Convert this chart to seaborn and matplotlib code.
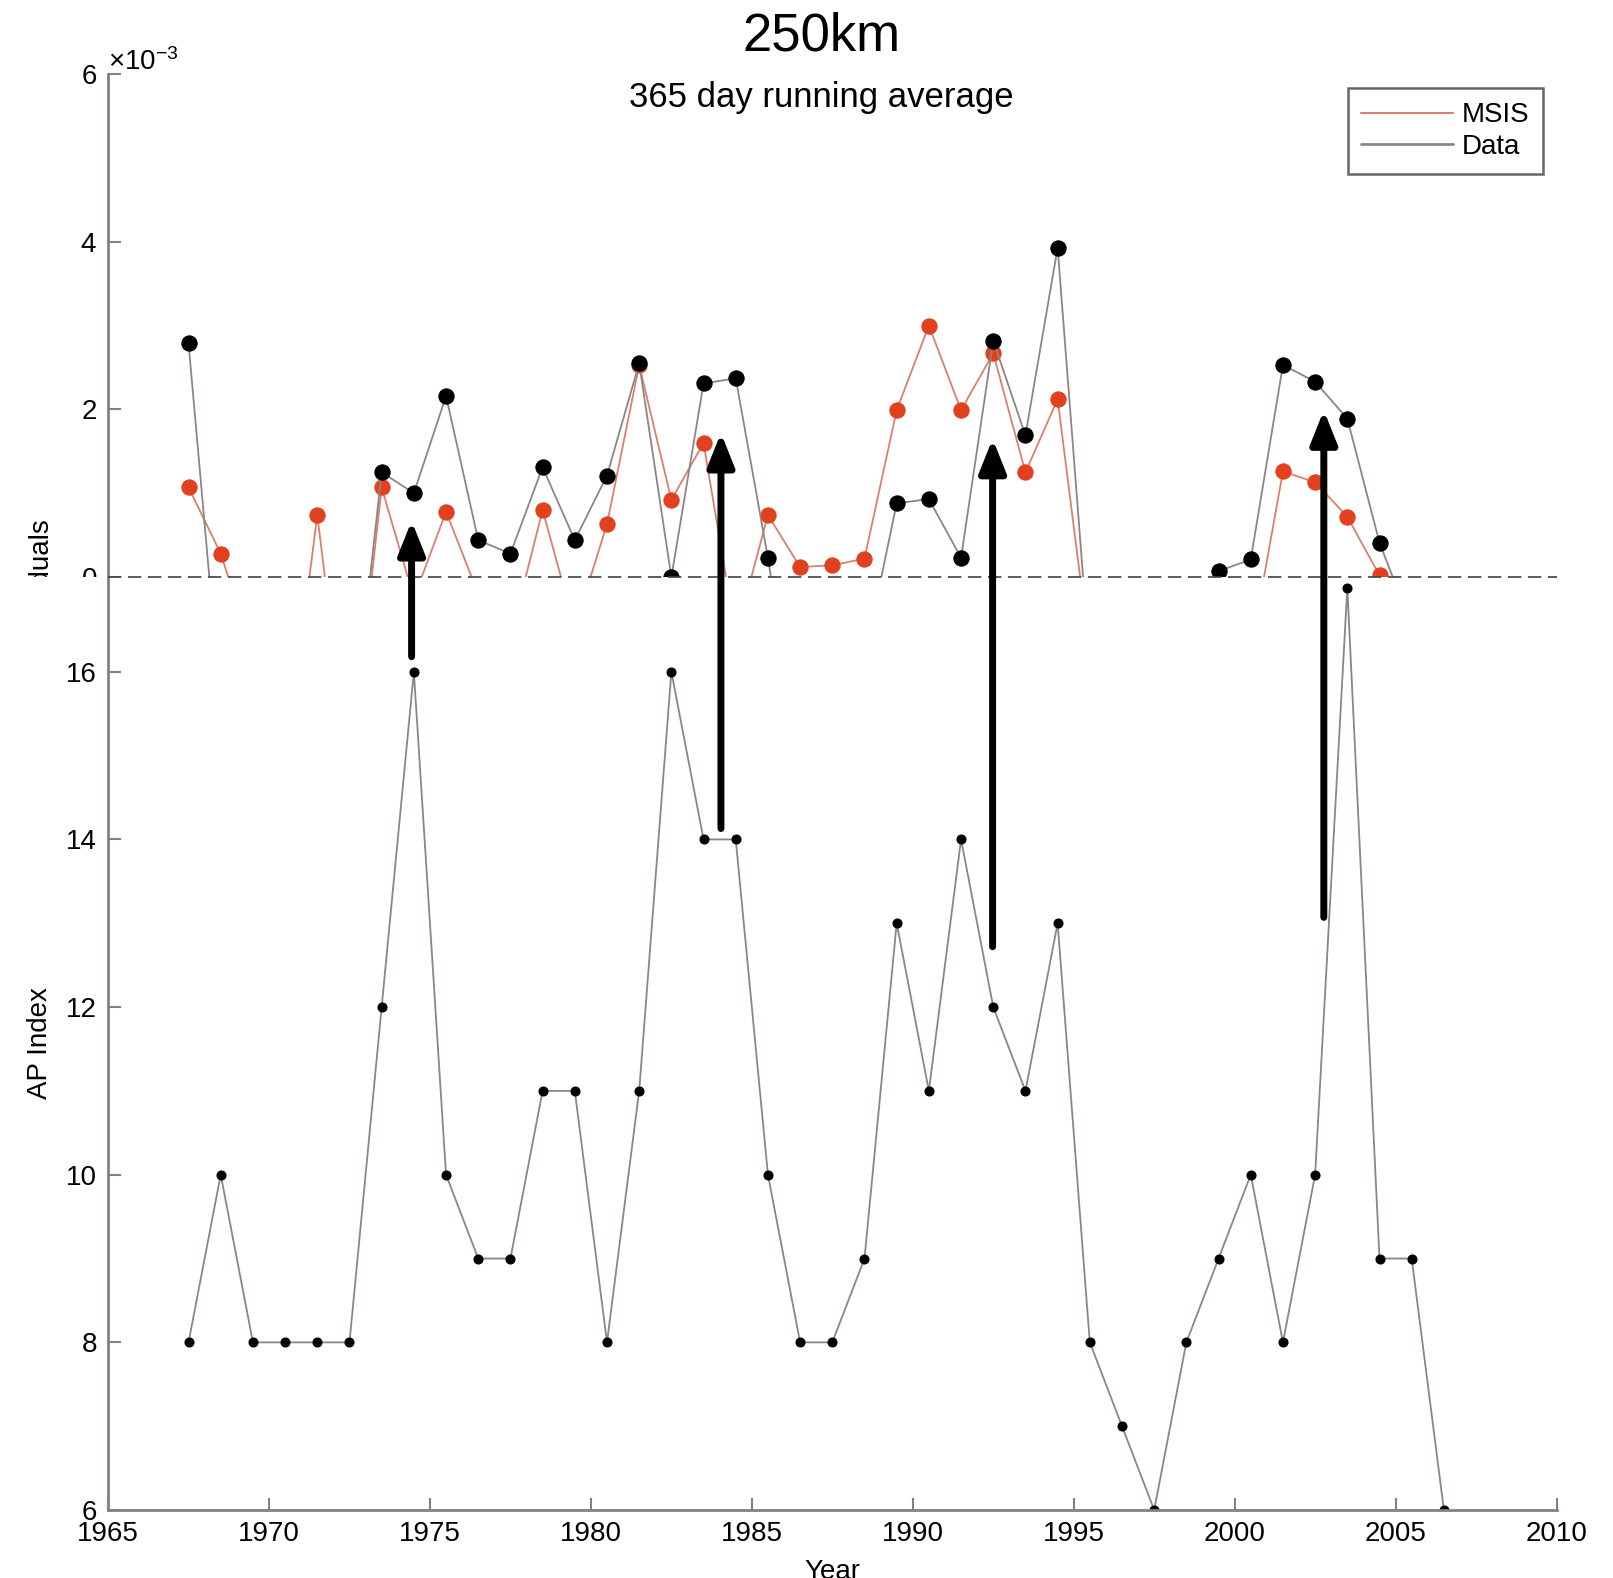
import matplotlib
matplotlib.use("Agg")
import matplotlib.pyplot as plt
import seaborn as sns
import pandas as pd
from matplotlib.lines import Line2D
from matplotlib.patches import Rectangle
from matplotlib.ticker import ScalarFormatter

# ---------------- data ----------------
years = [1967.5, 1968.5, 1969.5, 1970.5, 1971.5, 1972.5, 1973.5, 1974.5, 1975.5, 1976.5,
         1977.5, 1978.5, 1979.5, 1980.5, 1981.5, 1982.5, 1983.5, 1984.5, 1985.5, 1986.5,
         1987.5, 1988.5, 1989.5, 1990.5, 1991.5, 1992.5, 1993.5, 1994.5, 1995.5, 1996.5,
         1997.5, 1998.5, 1999.5, 2000.5, 2001.5, 2002.5, 2003.5, 2004.5, 2005.5, 2006.5]

# residuals in units of 1e-3 (negative values are hidden behind the lower panel)
data_resid = [2.79, -1.53, -1.6, -1.8, -2.0, -2.22, 1.25, 1.00, 2.16, 0.44,
              0.28, 1.31, 0.44, 1.21, 2.55, 0.00, 2.31, 2.37, 0.23, -2.3,
              -2.0, -0.97, 0.88, 0.93, 0.23, 2.82, 1.69, 3.93, -1.04, -1.5,
              -1.8, -1.2, 0.07, 0.21, 2.53, 2.33, 1.89, 0.41, -0.59, -1.0]

msis_resid = [1.07, 0.28, -0.91, -2.28, 0.74, -2.4, 1.07, -0.25, 0.78, -0.2,
              -0.72, 0.80, -0.6, 0.63, 2.53, 0.92, 1.60, -0.7, 0.74, 0.12,
              0.14, 0.22, 1.99, 3.00, 1.99, 2.67, 1.25, 2.12, -0.91, -1.5,
              -1.8, -1.5, -1.2, -0.88, 1.26, 1.13, 0.72, 0.02, -0.5, -1.0]

ap_index = [8, 10, 8, 8, 8, 8, 12, 16, 10, 9,
            9, 11, 11, 8, 11, 16, 14, 14, 10, 8,
            8, 9, 13, 11, 14, 12, 11, 13, 8, 7,
            6, 8, 9, 10, 8, 10, 17, 9, 9, 6]

resid_scale = 1e-3
resid_ticks = [-6, -4, -2, 0, 2, 4, 6]
ap_ticks = [6, 8, 10, 12, 14, 16]
year_ticks = [1965, 1970, 1975, 1980, 1985, 1990, 1995, 2000, 2005, 2010]
series_labels = ["MSIS", "Data"]

# arrows (x in years, y in AP-index units of the lower panel)
arrow_x = [1974.43, 1984.04, 1992.48, 2002.77]
arrow_tail = [16.18, 14.13, 12.72, 13.07]
arrow_head = [17.80, 18.85, 18.78, 19.12]

# ---------------- style ----------------
sns.set_style("ticks")
plt.rcParams['font.family'] = ['Liberation Sans', 'DejaVu Sans']
plt.rcParams['mathtext.fontset'] = 'custom'
plt.rcParams['mathtext.rm'] = 'Liberation Sans'
plt.rcParams['mathtext.it'] = 'Liberation Sans'
plt.rcParams['text.color'] = 'black'
plt.rcParams['axes.labelcolor'] = 'black'

red_marker = "#e2401e"
red_line = "#d9806e"
gray_line = "#8f8484"
spine_col = "#858080"

df = pd.DataFrame({"year": years,
                   "data": [v * resid_scale for v in data_resid],
                   "msis": [v * resid_scale for v in msis_resid],
                   "ap": ap_index})

fig = plt.figure(figsize=(16.13, 15.78), dpi=100)
L, W = 0.067, 0.898
split = 0.6343
ax_top = fig.add_axes([L, 0.3155, W, 0.6376], zorder=0)
ax_bot = fig.add_axes([L, 0.0431, W, split - 0.0431], zorder=2)
ax_bot.set_facecolor("white")

# cover for the lower half of the upper panel (incl. its labels)
fig.add_artist(Rectangle((0, 0), 1, split, transform=fig.transFigure,
                         facecolor="white", edgecolor="none", zorder=1))

# ---------------- upper panel ----------------
sns.lineplot(data=df, x="year", y="msis", ax=ax_top, color=red_line, lw=1.3,
             marker="o", markersize=11, markerfacecolor=red_marker,
             markeredgecolor=red_marker, estimator=None, legend=False)
sns.lineplot(data=df, x="year", y="data", ax=ax_top, color=gray_line, lw=1.3,
             marker="o", markersize=11, markerfacecolor="black",
             markeredgecolor="black", estimator=None, legend=False)
ax_top.set_xlim(year_ticks[0], year_ticks[-1])
ax_top.set_ylim(resid_ticks[0] * resid_scale, resid_ticks[-1] * resid_scale)
ax_top.set_yticks([t * resid_scale for t in resid_ticks])
fmt = ScalarFormatter(useMathText=True)
fmt.set_powerlimits((0, 0))
ax_top.yaxis.set_major_formatter(fmt)
ax_top.yaxis.get_offset_text().set_fontsize(20)
ax_top.yaxis.get_offset_text().set_color("black")
ax_top.set_xticks([])
ax_top.set_xlabel("")
ax_top.set_ylabel("Residuals", fontsize=20)
ax_top.yaxis.set_label_coords(-0.038, 0.5)
for s in ["top", "right", "bottom"]:
    ax_top.spines[s].set_visible(False)
ax_top.spines["left"].set_color(spine_col)
ax_top.spines["left"].set_linewidth(2)
ax_top.tick_params(axis="y", direction="in", length=9, width=1.5, color=spine_col,
                   labelcolor="black", labelsize=20, pad=8)

handles = [Line2D([], [], color=red_line, lw=1.5), Line2D([], [], color=gray_line, lw=2)]
leg = ax_top.legend(handles, series_labels, loc="upper right",
                    bbox_to_anchor=(0.9566, 0.944), bbox_transform=fig.transFigure,
                    fontsize=20, frameon=True, fancybox=False, handlelength=3.3,
                    handletextpad=0.3, borderpad=0.5, labelspacing=0.2,
                    borderaxespad=0)
leg.get_frame().set_edgecolor("#404040")
leg.get_frame().set_linewidth(1.8)
for t in leg.get_texts():
    t.set_color("black")

# ---------------- lower panel ----------------
sns.lineplot(data=df, x="year", y="ap", ax=ax_bot, color=gray_line, lw=1.3,
             marker="o", markersize=6.5, markerfacecolor="black",
             markeredgecolor="black", estimator=None, legend=False)
ax_bot.set_xlim(year_ticks[0], year_ticks[-1])
ax_bot.set_ylim(6, 17.13)
ax_bot.set_yticks(ap_ticks)
ax_bot.set_xticks(year_ticks)
ax_bot.set_ylabel("AP Index", fontsize=20)
ax_bot.yaxis.set_label_coords(-0.038, 0.5)
ax_bot.set_xlabel("Year", fontsize=20, va="center")
ax_bot.xaxis.set_label_coords(0.5, -0.066)
for s in ["top", "right"]:
    ax_bot.spines[s].set_visible(False)
for s in ["left", "bottom"]:
    ax_bot.spines[s].set_color(spine_col)
    ax_bot.spines[s].set_linewidth(2)
ax_bot.tick_params(direction="in", length=9, width=1.5, color=spine_col,
                   labelcolor="black", labelsize=20, pad=8)

# zero line of the residual panel (drawn at the panel boundary)
ax_bot.axhline(17.13, color="#404040", lw=1.2, ls=(0, (8, 4)), clip_on=False, zorder=3)

# arrows linking the panels
for x, yt, yh in zip(arrow_x, arrow_tail, arrow_head):
    ax_bot.annotate("", xy=(x, yh), xytext=(x, yt), annotation_clip=False,
                    arrowprops=dict(arrowstyle="-|>,head_length=0.5,head_width=0.2",
                                    lw=5, color="black", mutation_scale=40,
                                    shrinkA=0, shrinkB=0))

# titles
fig.text(0.509, 0.977, "250km", ha="center", va="center", fontsize=38)
fig.text(0.509, 0.938, "365 day running average", ha="center", va="center", fontsize=25)

fig.savefig("out.png", dpi=100, facecolor="white")
